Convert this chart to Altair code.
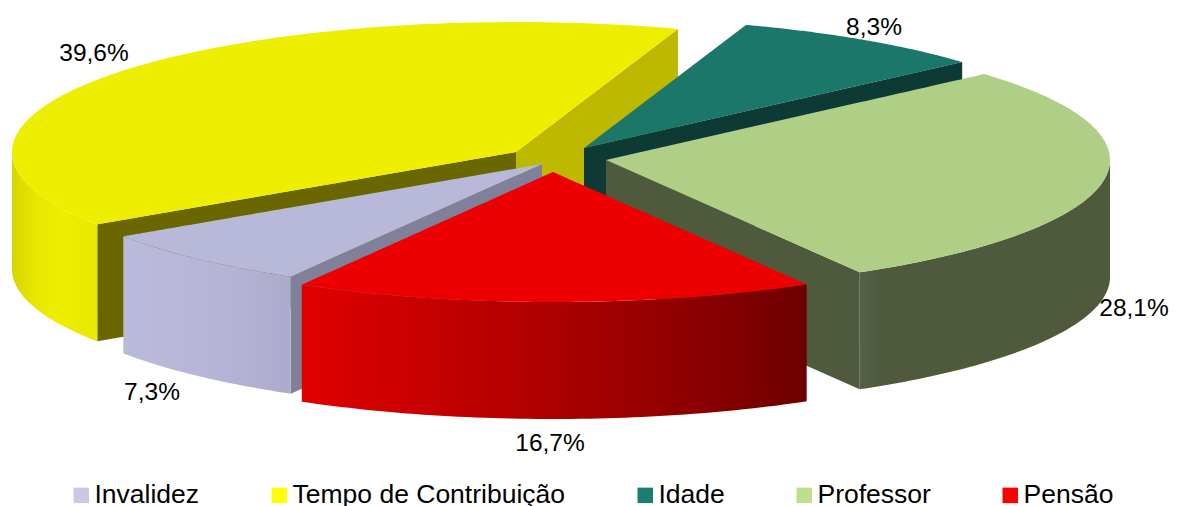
import math
import altair as alt
import pandas as pd

# Chart data
categories = ["Invalidez", "Tempo de Contribuição", "Idade", "Professor", "Pensão"]
shares = [7.3, 39.6, 8.3, 28.1, 16.7]
share_labels = ["7,3%", "39,6%", "8,3%", "28,1%", "16,7%"]
legend_colors = ["#C9C9E6", "#FFFF00", "#1C7E72", "#BFDF8C", "#FF0000"]

# Styling / layout of the tilted, exploded pie
top_colors = ["#B8B8D8", "#EEEE00", "#1C776B", "#B0CF86", "#EE0000"]
cut_colors = ["#80809A", "#6A6600", "#0E3A36", "#4F5A3C", "#8A0000"]
apex_x = [542, 516, 584, 606, 553]
apex_y = [164, 152, 148, 160, 172]
label_x = [152, 94, 874, 1134, 550]
label_y = [393, 54, 28, 309, 444]
RX, RY, DEPTH = 504, 130, 117
START_DEG = 209.9  # clockwise from the top, where the first slice begins

PLOT_W, PLOT_H = 1163, 498
x_scale = alt.Scale(domain=[8, 8 + PLOT_W], range=[0, PLOT_W], nice=False, zero=False)
y_scale = alt.Scale(domain=[8, 8 + PLOT_H], range=[0, PLOT_H], nice=False, zero=False)


def rim(i, deg):
    t = math.radians(deg)
    return apex_x[i] + RX * math.sin(t), apex_y[i] - RY * math.cos(t)


def envelope(poly):
    """Upper and lower edge of a convex polygon, per x, for an area mark."""
    xs = sorted({round(p[0], 2) for p in poly})
    rows = []
    n = len(poly)
    for x in xs:
        ys = []
        for k in range(n):
            (x0, y0), (x1, y1) = poly[k], poly[(k + 1) % n]
            lo, hi = min(x0, x1), max(x0, x1)
            if lo - 0.01 <= x <= hi + 0.01:
                if abs(x1 - x0) < 1e-6:
                    ys += [y0, y1]
                else:
                    ys.append(y0 + (y1 - y0) * (x - x0) / (x1 - x0))
        rows.append({"x": x, "y": min(ys), "y2": max(ys)})
    return pd.DataFrame(rows)


def area(df, fill):
    return alt.Chart(df).mark_area(color=fill, interpolate="linear").encode(
        x=alt.X("x:Q", scale=x_scale, axis=None),
        y=alt.Y("y:Q", scale=y_scale, axis=None),
        y2="y2:Q",
    )


def gradient(stops):
    return alt.Gradient(
        gradient="linear", x1=0, x2=1, y1=0, y2=0,
        stops=[alt.GradientStop(offset=o, color=c) for o, c in stops],
    )


def wall(i, a0, a1):
    degs = [a0 + (a1 - a0) * k / 60 for k in range(61)]
    pts = [rim(i, d) for d in degs]
    df = pd.DataFrame({"x": [p[0] for p in pts], "y": [p[1] for p in pts]})
    df["y2"] = df["y"] + DEPTH
    return df.sort_values("x")


def cut(i, deg):
    px, py = rim(i, deg)
    df = pd.DataFrame({"x": [apex_x[i], px], "y": [apex_y[i], py]})
    df["y2"] = df["y"] + DEPTH
    return df.sort_values("x")


def top(i, a0, a1):
    degs = [a0 + (a1 - a0) * k / 120 for k in range(121)]
    return envelope([(apex_x[i], apex_y[i])] + [rim(i, d) for d in degs])


# start / end angle of every slice, clockwise from the top
bounds = []
a = START_DEG
for s in shares:
    bounds.append((a, a + s * 3.6))
    a += s * 3.6

INV, TEMPO, IDADE, PROF, PENS = 0, 1, 2, 3, 4
layers = []

# Legend carrier, hidden below the pie
legend_df = pd.DataFrame({"cat": categories, "x": [560] * 5, "y": [160] * 5})
layers.append(
    alt.Chart(legend_df).mark_square(size=20, opacity=1).encode(
        x=alt.X("x:Q", scale=x_scale, axis=None),
        y=alt.Y("y:Q", scale=y_scale, axis=None),
        color=alt.Color(
            "cat:N",
            sort=categories,
            scale=alt.Scale(domain=categories, range=legend_colors),
            legend=alt.Legend(
                title=None, orient="none", legendX=60, legendY=474,
                direction="horizontal", columns=5, symbolType="square",
                symbolSize=240, symbolStrokeWidth=0, labelFont="Liberation Sans",
                labelFontSize=26.5, labelColor="#000000", columnPadding=66,
                labelOffset=0, labelLimit=400, padding=0,
            ),
        ),
    )
)

# Tempo de Contribuição
a0, a1 = bounds[TEMPO]
layers.append(area(cut(TEMPO, a1), "#BDB800"))
layers.append(area(cut(TEMPO, a0), cut_colors[TEMPO]))
layers.append(area(wall(TEMPO, a0, 270),
                   gradient([(0, "#D6D600"), (0.3, "#E8E800"), (0.6, "#EEEE00"), (1, "#E8E800")])))
layers.append(area(top(TEMPO, a0, a1), top_colors[TEMPO]))

# Idade
a0, a1 = bounds[IDADE]
layers.append(area(cut(IDADE, a1), cut_colors[IDADE]))
layers.append(area(top(IDADE, a0, a1), top_colors[IDADE]))

# Professor (its visible wall runs from the rightmost point to the front cut)
a0, a1 = bounds[PROF]
layers.append(area(cut(PROF, a1), cut_colors[PROF]))
layers.append(area(wall(PROF, 450, a1),
                   gradient([(0, "#556148"), (0.08, "#4F5A3C"), (1, "#4F5A3C")])))
layers.append(area(top(PROF, a0, a1), top_colors[PROF]))

# Invalidez
a0, a1 = bounds[INV]
layers.append(area(cut(INV, a0), cut_colors[INV]))
layers.append(area(wall(INV, a0, a1),
                   gradient([(0, "#BABADB"), (0.6, "#B6B4D6"), (1, "#ADABCB")])))
layers.append(area(top(INV, a0, a1), top_colors[INV]))

# Pensão
a0, a1 = bounds[PENS]
layers.append(area(wall(PENS, a0, a1),
                   gradient([(0, "#E00000"), (0.35, "#BC0000"), (0.7, "#960000"), (1, "#6E0000")])))
layers.append(area(top(PENS, a0, a1), top_colors[PENS]))

# Percentage labels
labels_df = pd.DataFrame({"t": share_labels, "x": label_x, "y": label_y})
layers.append(
    alt.Chart(labels_df).mark_text(
        font="Liberation Sans", fontSize=24.5, color="#000000", align="center", baseline="middle"
    ).encode(
        x=alt.X("x:Q", scale=x_scale, axis=None),
        y=alt.Y("y:Q", scale=y_scale, axis=None),
        text="t:N",
    )
)

chart = alt.layer(*layers).properties(
    width=PLOT_W, height=PLOT_H, padding=0,
    autosize=alt.AutoSizeParams(type="none"),
).configure_view(stroke=None, clip=False)

chart.save("out.html", embed_options={"renderer": "svg", "actions": False})
